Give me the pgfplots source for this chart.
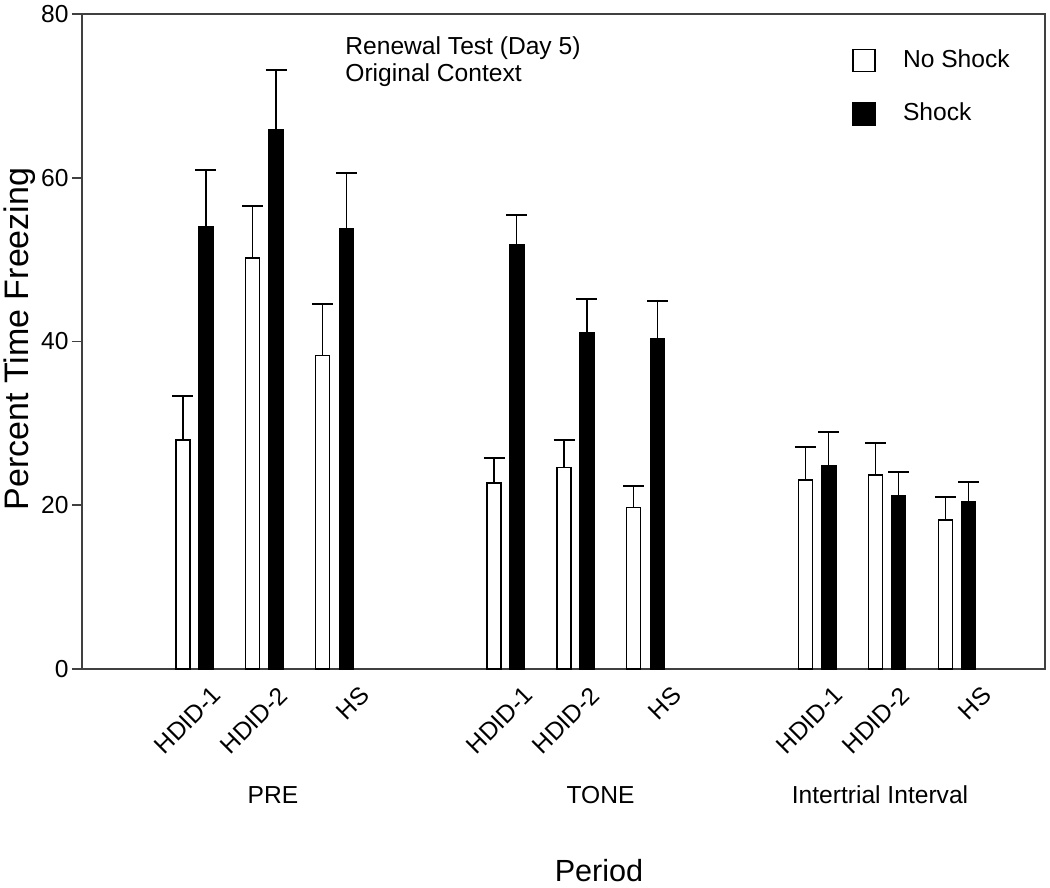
\documentclass[border=0pt]{standalone}
\usepackage{fontspec}
\setmainfont{Liberation Sans}
\usepackage{pgfplots}
\pgfplotsset{compat=1.18}
\usetikzlibrary{calc}
\begin{document}
\begin{tikzpicture}
\begin{axis}[
  scale only axis, width=481.5pt, height=327.5pt,
  xmin=82, xmax=1045, ymin=0, ymax=80,
  axis line style={black!75, line width=0.9pt},
  ytick={0,20,40,60,80}, ytick pos=left, tick align=outside, major tick length=5pt,
  ytick style={black!75, line width=0.9pt},
  xtick={205,271,353,517,583,665,827,893,975},
  xticklabels={HDID-1,HDID-2,HS,HDID-1,HDID-2,HS,HDID-1,HDID-2,HS},
  xtick style={draw=none}, xtick pos=bottom,
  xticklabel style={rotate=45, anchor=north east, inner sep=0pt, yshift=-4pt},
  yticklabel style={inner sep=1.5pt},
  /pgf/number format/assume math mode=true,
  tick label style={font=\fontsize{12.3}{14}\selectfont},
  clip=false,
  legend cell align=left,
  legend style={draw=none, fill=none, at={(axis cs:852,75.8)}, anchor=north west,
    inner sep=0pt, row sep=15pt, font=\fontsize{12.3}{14}\selectfont,
    nodes={inner sep=0pt, text height=9pt, text depth=2.5pt},
    /tikz/every odd column/.style={column sep=13.5pt}},
  legend image code/.code={\draw[#1, line width=0.8pt] (0pt,-5.5pt) rectangle (11pt,5.5pt);},
]
\addplot[ybar, bar width=14, bar shift=0, draw=black, fill=white, line width=0.8pt,
  error bars/.cd, y dir=plus, y explicit,
  error bar style={line width=0.75pt, black},
  error mark options={rotate=90, mark size=5.25pt, line width=1pt, black}]
coordinates {
 (183,28.0) +- (0,5.4)
 (252.5,50.2) +- (0,6.3)
 (322.5,38.3) +- (0,6.3)
 (494,22.7) +- (0,3.1)
 (564,24.6) +- (0,3.4)
 (633.5,19.7) +- (0,2.7)
 (805.3,23.1) +- (0,4.0)
 (875.3,23.7) +- (0,3.9)
 (945.3,18.2) +- (0,2.8)
};
\addlegendentry{No Shock}
\addplot[ybar, bar width=14, bar shift=0, draw=black, fill=black, line width=0.8pt,
  error bars/.cd, y dir=plus, y explicit,
  error bar style={line width=0.75pt, black},
  error mark options={rotate=90, mark size=5.25pt, line width=1pt, black}]
coordinates {
 (205.8,54.0) +- (0,7.0)
 (276,65.9) +- (0,7.3)
 (346.5,53.8) +- (0,6.8)
 (516.7,51.8) +- (0,3.6)
 (586.8,41.1) +- (0,4.1)
 (657.5,40.3) +- (0,4.7)
 (828.7,24.8) +- (0,4.1)
 (898.5,21.1) +- (0,2.9)
 (968.5,20.4) +- (0,2.4)
};
\addlegendentry{Shock}
\node[anchor=base west, font=\fontsize{12.3}{14}\selectfont, inner sep=0pt] at (axis cs:345,75.1) {Renewal Test (Day 5)};
\node[anchor=base west, font=\fontsize{12.3}{14}\selectfont, inner sep=0pt] at (axis cs:345,71.7) {Original Context};
\node[anchor=base, font=\fontsize{12.3}{14}\selectfont, inner sep=0pt] at (axis cs:273,-16.37) {PRE};
\node[anchor=base, font=\fontsize{12.3}{14}\selectfont, inner sep=0pt] at (axis cs:600.5,-16.37) {TONE};
\node[anchor=base, font=\fontsize{12.3}{14}\selectfont, inner sep=0pt] at (axis cs:880,-16.37) {Intertrial Interval};
\node[anchor=base, font=\fontsize{15.3}{17}\selectfont, inner sep=0pt] at (axis cs:599,-25.9) {Period};
\node[rotate=90, anchor=center, font=\fontsize{17}{19}\selectfont, inner sep=0pt] at (axis cs:20,40.3) {Percent Time Freezing};
\end{axis}
\path ($(current axis.south west)+(-41pt,-109.5pt)$) rectangle ($(current axis.north east)+(2.5pt,7pt)$);
\end{tikzpicture}
\end{document}
